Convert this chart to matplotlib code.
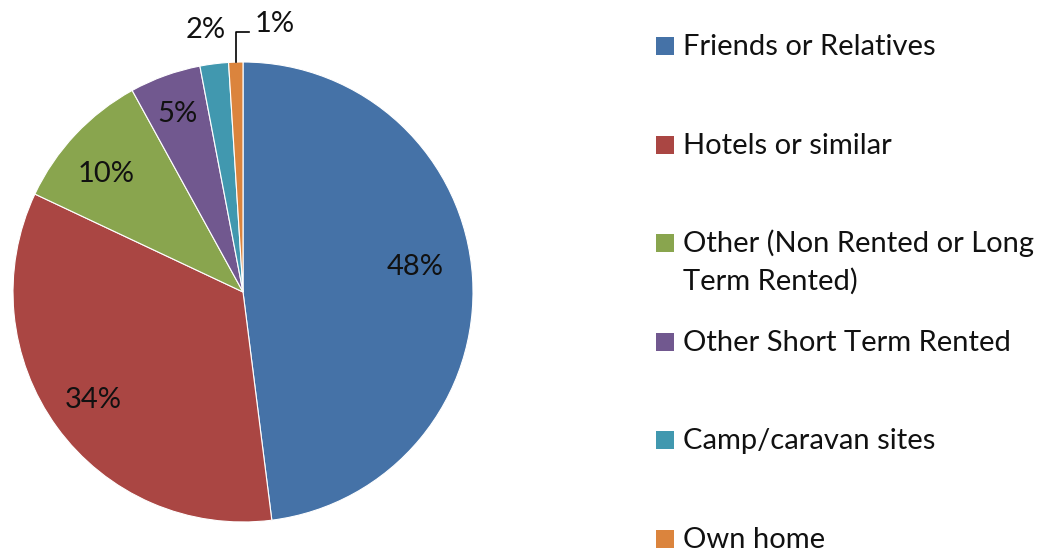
import numpy as np
import matplotlib.pyplot as plt
from matplotlib.patches import Rectangle

categories = ["Friends or Relatives", "Hotels or similar",
              "Other (Non Rented or Long\nTerm Rented)", "Other Short Term Rented",
              "Camp/caravan sites", "Own home"]
shares = [48, 34, 10, 5, 2, 1]
colors = ["#4572A7", "#AA4643", "#89A54E", "#71588F", "#4198AF", "#DB843D"]

# label centres in pie units (radius = 1), as Excel placed them
label_pos = [(0.748, 0.117), (-0.652, -0.461), (-0.596, 0.522),
             (-0.283, 0.783), (-0.161, 1.148), (0.137, 1.174)]

plt.rcParams['font.family'] = ['Lato', 'DejaVu Sans']
FS = 21
TXT = "#111111"

W, H = 1050, 553
fig = plt.figure(figsize=(W / 100, H / 100), dpi=100)
ax = fig.add_axes([13 / W, 31 / H, 460 / W, 460 / H])

wedges, _ = ax.pie(shares, colors=colors, startangle=90, counterclock=False,
                   radius=1, wedgeprops=dict(edgecolor="white", linewidth=0.8))
ax.set_xlim(-1, 1)
ax.set_ylim(-1, 1)
ax.set_aspect("equal")

cap = 10 / 230  # half cap height in pie units
for s, (x, y) in zip(shares, label_pos):
    ax.text(x, y - cap, f"{s}%", ha="center", va="baseline", fontsize=FS, color=TXT)

# leader line for the smallest slice
w = wedges[-1]
a = np.deg2rad((w.theta1 + w.theta2) / 2)
x0, y0 = np.cos(a), np.sin(a)
ax.plot([x0, x0, 0.026], [y0, 1.13, 1.13], color="black", lw=1.2, clip_on=False)

# legend
for i, (lab, c) in enumerate(zip(categories, colors)):
    yc = 46 + 98.6 * i
    fig.patches.append(Rectangle((656 / W, (H - yc - 9) / H), 18 / W, 18 / H,
                                 transform=fig.transFigure, color=c, lw=0))
    for j, line in enumerate(lab.split("\n")):
        fig.text(683 / W, (H - yc - 9 - 38 * j) / H, line, ha="left", va="baseline",
                 fontsize=FS, color=TXT)

fig.savefig("out.png", dpi=100)
